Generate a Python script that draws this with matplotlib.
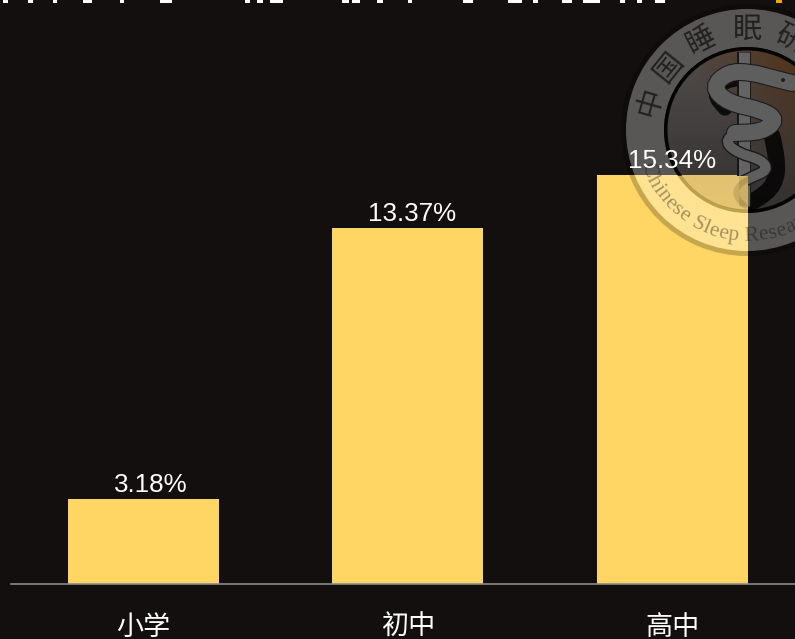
import numpy as np
import matplotlib
matplotlib.use("Agg")
import matplotlib.pyplot as plt
from matplotlib.patches import Circle, Rectangle, Wedge, PathPatch
from matplotlib.path import Path
from matplotlib.textpath import TextPath
from matplotlib.font_manager import FontProperties

plt.rcParams['font.family'] = ['Liberation Sans', 'Noto Sans CJK SC', 'DejaVu Sans']

# ---- data ----
categories = ['小学', '初中', '高中']
values = [3.18, 13.37, 15.34]
value_labels = ['3.18%', '13.37%', '15.34%']

W, H = 795, 639
BG = '#120f0e'
BAR = '#ffd664'
label_dx_pt = [5.2, 2.9, 0]
PX_PER_UNIT = 26.6

fig = plt.figure(figsize=(W / 100, H / 100), dpi=100, facecolor=BG)


def axes_px(left, right, top, bottom, **kw):
    return fig.add_axes([left / W, 1 - bottom / H, (right - left) / W, (bottom - top) / H], **kw)


# ---- bars ----
ax = axes_px(11, 804.5, 0, 583.5, zorder=0)
ax.set_facecolor(BG)
x = np.arange(len(categories))
ax.bar(x, values, width=151 / 264.5, color=BAR, linewidth=0)
ax.set_xlim(-0.5, 2.5)
ax.set_ylim(0, 583.5 / PX_PER_UNIT)
ax.set_yticks([])
ax.set_xticks(x)
ax.set_xticklabels(categories, fontsize=19.5, color='white', family=['Noto Sans CJK SC', 'DejaVu Sans'])
ax.tick_params(axis='x', length=0, pad=22)
for s in ('top', 'left', 'right'):
    ax.spines[s].set_visible(False)
ax.spines['bottom'].set_color('#8a8a8a')
ax.spines['bottom'].set_linewidth(1.2)

# ---- watermark seal and the cropped headline, in pixel coordinates ----
ov = fig.add_axes([0, 0, 1, 1], zorder=1)
ov.axis('off')
ov.patch.set_alpha(0)

cx, cy = 747, 130

# Outer faint rim and light ring
ov.add_patch(Wedge((cx, cy), 126, 0, 360, width=5, facecolor='black', alpha=0.22, linewidth=0))
ov.add_patch(Wedge((cx, cy), 121, 0, 360, width=38, facecolor='white', alpha=0.30, linewidth=0))

# Inner disc gradient: grey fading downward, brown to the upper right
yy, xx = np.mgrid[0:200, 0:200]
u = (xx - 100) / 80.0
v = (yy - 100) / 80.0
brown = np.clip(0.55 * u - 0.45 * v + 0.1, 0, 1)
grey = np.array([0.60, 0.58, 0.58])
brn = np.array([0.62, 0.34, 0.10])
rgba = np.zeros((200, 200, 4))
for i in range(3):
    rgba[..., i] = grey[i] * (1 - brown) + brn[i] * brown
rgba[..., 3] = np.clip(0.36 - 0.11 * v, 0.22, 0.47)
im = ov.imshow(rgba, extent=(cx - 100, cx + 100, cy + 100, cy - 100), zorder=1, aspect='auto',
               interpolation='bilinear')
im.set_clip_path(Circle((cx, cy), 80, transform=ov.transData))
ov.set_xlim(0, W)
ov.set_ylim(H, 0)

# Area of the seal that lies on the dark background and not on the third bar
off_bar = Path([(0, 0), (W, 0), (W, 176), (0, 176), (0, 0),
                (748, 176), (W, 176), (W, 270), (748, 270), (748, 176)],
               [Path.MOVETO, Path.LINETO, Path.LINETO, Path.LINETO, Path.CLOSEPOLY,
                Path.MOVETO, Path.LINETO, Path.LINETO, Path.LINETO, Path.CLOSEPOLY])

# Dark ring between disc and light band
ov.add_patch(Wedge((cx, cy), 83, 0, 360, width=3.5, facecolor='black', alpha=0.25, linewidth=0, zorder=2))
ring = Wedge((cx, cy), 83, 0, 360, width=3.5, facecolor='black', alpha=0.7, linewidth=0, zorder=2)
ov.add_patch(ring)
ring.set_clip_path(off_bar, transform=ov.transData)


def smooth(pts):
    verts = [pts[0]]
    codes = [Path.MOVETO]
    for a, b in zip(pts[1:-1], pts[2:]):
        verts += [a, ((a[0] + b[0]) / 2, (a[1] + b[1]) / 2)]
        codes += [Path.CURVE3, Path.CURVE3]
    verts += [pts[-1]]
    codes += [Path.LINETO]
    return Path(verts, codes)


def on_dark(artist):
    ov.add_artist(artist)
    artist.set_clip_path(off_bar, transform=ov.transData)
    return artist


snake_top = [(792, 83), (772, 78), (750, 72), (728, 72), (712, 87), (728, 103), (762, 110), (777, 120),
             (762, 132), (735, 133)]
snake_low = [(745, 133), (735, 133), (725, 142), (738, 153), (762, 160), (768, 170), (752, 177), (740, 183)]
tail = [(752, 177), (738, 184), (735, 196), (745, 206)]
shadow_top = [(742, 78), (722, 80), (714, 95), (725, 108)]
shadow_low = [(772, 136), (778, 160), (775, 185), (757, 200), (745, 204)]

for pts, lw in ((shadow_top, 11), (shadow_low, 12)):
    on_dark(PathPatch(smooth(pts), fill=False, edgecolor='black', alpha=0.8, linewidth=lw,
                      capstyle='round', zorder=3))

# Staff
on_dark(plt.Line2D([744, 744], [52, 206], color='#141414', linewidth=10, zorder=4, solid_capstyle='butt'))
on_dark(plt.Line2D([744, 744], [52, 206], color='#636363', linewidth=8, zorder=5, solid_capstyle='butt'))
ov.add_line(plt.Line2D([744, 744], [176, 206], color='black', alpha=0.1, linewidth=8, zorder=4,
                       solid_capstyle='butt'))
# Snake body
for pts, w_out, w_in in ((snake_low, 9, 7), (snake_top, 13, 11.5)):
    on_dark(PathPatch(smooth(pts), fill=False, edgecolor='#1a1a1a', linewidth=w_out, capstyle='round', zorder=6))
    on_dark(PathPatch(smooth(pts), fill=False, edgecolor='#5e5e5e', linewidth=w_in, capstyle='round', zorder=7))
ov.add_patch(PathPatch(smooth(tail), fill=False, edgecolor='black', alpha=0.12, linewidth=4, capstyle='round', zorder=6))
ov.add_patch(Circle((783, 80), 2.0, facecolor='#222222', linewidth=0, zorder=8))

# Chinese name on the top of the ring
seal_chars = ['中', '国', '睡', '眠', '研']
seal_angles = [-74, -51, -27, 0, 25]
for ch, a in zip(seal_chars, seal_angles):
    r = np.radians(a)
    ov.text(cx + 100 * np.sin(r), cy - 100 * np.cos(r), ch, rotation=-a, rotation_mode='anchor',
            ha='center', va='center', fontsize=21, color='black', alpha=0.62, zorder=9,
            family=['Noto Sans CJK SC'], clip_on=True)

# English name along the bottom of the ring
seal_en = 'Chinese Sleep Research'
fp = FontProperties(family='Liberation Serif', size=15.5)
R_base = 111
R_mid = 104
t = np.radians(-72)
base_w = TextPath((0, 0), 'xx', prop=fp, size=21.5).get_extents().width
for ch in seal_en:
    if ch == ' ':
        t += 5.4 / R_mid
        continue
    adv = TextPath((0, 0), 'x' + ch + 'x', prop=fp, size=21.5).get_extents().width - base_w
    dt = adv / R_mid
    tm = t + dt / 2
    ov.text(cx + R_base * np.sin(tm), cy + R_base * np.cos(tm), ch, rotation=np.degrees(tm),
            rotation_mode='anchor', ha='center', va='baseline', fontproperties=fp,
            color='black', alpha=0.36, zorder=9, clip_on=True)
    t += dt

# Bottom edges of the headline, which the crop of the image cuts off
head_x0 = [3, 28, 53, 83, 120, 160, 245, 257, 270, 342, 352, 377, 408, 463, 508, 533, 562, 583, 620, 637, 655]
head_x1 = [8, 33, 57, 92, 124, 172, 250, 263, 283, 349, 360, 383, 412, 473, 522, 538, 572, 600, 625, 642, 665]
for a, b in zip(head_x0, head_x1):
    ov.add_patch(Rectangle((a, 0), b - a, 2.5, facecolor='white', linewidth=0, zorder=10))
ov.add_patch(Rectangle((776, 0), 6, 3, facecolor='#f5a800', linewidth=0, zorder=10))

# ---- value labels, above the watermark ----
ax_lab = axes_px(11, 804.5, 0, 583.5, zorder=2)
ax_lab.set_xlim(ax.get_xlim())
ax_lab.set_ylim(ax.get_ylim())
ax_lab.axis('off')
for xi, val, lab, dx in zip(x, values, value_labels, label_dx_pt):
    ax_lab.annotate(lab, (xi, val), xytext=(dx, 1.5), textcoords='offset points', ha='center', va='bottom',
                    fontsize=18.7, color='white', family=['Liberation Sans'])

fig.savefig('out.png', dpi=100, facecolor=BG)
